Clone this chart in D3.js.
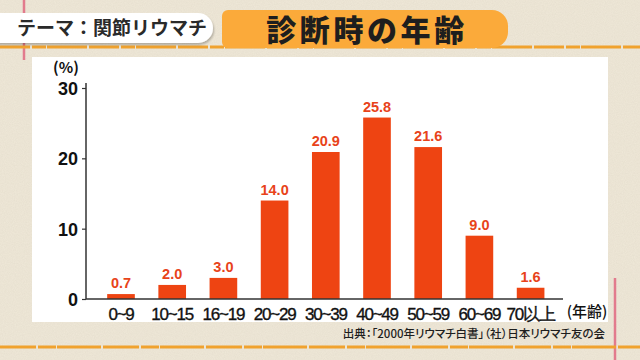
<!DOCTYPE html>
<html><head><meta charset="utf-8">
<script src="https://cdn.jsdelivr.net/npm/d3@7"></script>
<style>
html,body{margin:0;padding:0;background:#eee7d7;}
svg{display:block;}
</style></head>
<body>
<svg id="chart" width="640" height="360"></svg>
<script>
const categories = ["0~9","10~15","16~19","20~29","30~39","40~49","50~59","60~69","70以上"];
const values = [0.7, 2.0, 3.0, 14.0, 20.9, 25.8, 21.6, 9.0, 1.6];
const yTicks = [0, 10, 20, 30];
const themeLabel = "テーマ：関節リウマチ";
const title = "診断時の年齢";
const source = "出典：「2000年リウマチ白書」（社）日本リウマチ友の会";

const svg = d3.select("#chart");
const jp = "'Noto Sans CJK JP', 'Noto Sans', sans-serif";
const num = "'Liberation Sans', Arial, sans-serif";

// background texture
const defs = svg.append("defs");
const f = defs.append("filter").attr("id","paper").attr("x",0).attr("y",0).attr("width","100%").attr("height","100%");
f.append("feTurbulence").attr("type","fractalNoise").attr("baseFrequency",0.9).attr("numOctaves",2).attr("seed",3).attr("result","n");
f.append("feColorMatrix").attr("type","matrix").attr("values","0 0 0 0 0.55  0 0 0 0 0.5  0 0 0 0 0.4  0 0 0 0.35 -0.05");
const sh = defs.append("filter").attr("id","shadow").attr("x","-10%").attr("y","-20%").attr("width","120%").attr("height","160%");
sh.append("feDropShadow").attr("dx",1).attr("dy",2).attr("stdDeviation",1.2).attr("flood-color","#000").attr("flood-opacity",0.25);

svg.append("rect").attr("width",640).attr("height",360).attr("fill","#eee7d7");
svg.append("rect").attr("width",640).attr("height",360).attr("filter","url(#paper)").attr("opacity",0.6);

// decorative lines
svg.append("line").attr("x1",24).attr("x2",24).attr("y1",0).attr("y2",60).attr("stroke","#e27b8d").attr("stroke-width",2.5);
svg.append("line").attr("x1",615).attr("x2",615).attr("y1",278).attr("y2",360).attr("stroke","#e27b8d").attr("stroke-width",2.5);
svg.append("line").attr("x1",0).attr("x2",640).attr("y1",47).attr("y2",47).attr("stroke","#f0a22e").attr("stroke-width",3).attr("stroke-dasharray","30 2 14 1 40 2");
svg.append("line").attr("x1",0).attr("x2",640).attr("y1",347).attr("y2",347).attr("stroke","#f0a22e").attr("stroke-width",3).attr("stroke-dasharray","36 2 18 1 44 2");

// theme pill
svg.append("rect").attr("x",-20).attr("y",13).attr("width",233).attr("height",30).attr("rx",15)
  .attr("fill","#ffffff").attr("filter","url(#shadow)");
svg.append("text").attr("x",112).attr("y",35).attr("text-anchor","middle")
  .attr("font-family",jp).attr("font-weight",700).attr("font-size",19).attr("fill","#2a2a2a").text(themeLabel);

// title banner
svg.append("rect").attr("x",222).attr("y",10).attr("width",286).attr("height",38).attr("rx",16)
  .attr("fill","#fbaa3a");
svg.append("rect").attr("x",222).attr("y",10).attr("width",40).attr("height",38).attr("rx",6)
  .attr("fill","#fbaa3a");
svg.append("text").attr("x",367).attr("y",41).attr("text-anchor","middle")
  .attr("font-family",jp).attr("font-weight",900).attr("font-size",30).attr("letter-spacing",3.6)
  .attr("fill","#1e1e1e").text(title);

// white panel
svg.append("rect").attr("x",32).attr("y",57).attr("width",576).attr("height",265).attr("fill","#ffffff");

// scales
const x = d3.scaleBand().domain(categories).range([95.4, 556.2]).paddingInner(0.46).paddingOuter(0.23);
const y = d3.scaleLinear().domain([0,30]).range([299, 88]);
const barColor = "#ee4412";

// bars
svg.append("g").selectAll("rect").data(values).join("rect")
  .attr("x",(d,i)=>x(categories[i])).attr("width",x.bandwidth())
  .attr("y",d=>y(d)).attr("height",d=>y(0)-y(d)).attr("fill",barColor);

// value labels
svg.append("g").selectAll("text").data(values).join("text")
  .attr("x",(d,i)=>x(categories[i])+x.bandwidth()/2).attr("y",d=>y(d)-6)
  .attr("text-anchor","middle").attr("font-family",num).attr("font-weight",700).attr("font-size",14.5)
  .attr("fill","#e8431a").text(d=>d.toFixed(1));

// y axis
const yAxis = svg.append("g").attr("transform","translate(86,0)")
  .call(d3.axisLeft(y).tickValues(yTicks).tickSize(4).tickPadding(4));
yAxis.select(".domain").remove();
yAxis.selectAll("line").attr("stroke","#333").attr("stroke-width",1.2);
yAxis.selectAll("text").attr("font-family",num).attr("font-weight",700).attr("font-size",18).attr("fill","#111").attr("dy","0.36em");
svg.append("line").attr("x1",86).attr("x2",86).attr("y1",83).attr("y2",y(0)).attr("stroke","#333").attr("stroke-width",1.5);

// x axis
const xAxis = svg.append("g").attr("transform",`translate(0,${y(0)})`)
  .call(d3.axisBottom(x).tickSize(0).tickPadding(7));
xAxis.select(".domain").remove();
xAxis.selectAll("text").attr("font-family",num).attr("font-size",17).attr("letter-spacing",-1.2)
  .attr("fill","#111").attr("stroke","#111").attr("stroke-width",0.35).attr("dy","0.85em");
svg.append("line").attr("x1",86).attr("x2",563).attr("y1",y(0)).attr("y2",y(0)).attr("stroke","#333").attr("stroke-width",1.5);

// unit labels
svg.append("text").attr("x",66).attr("y",73).attr("text-anchor","middle")
  .attr("font-family",jp).attr("font-weight",700).attr("font-size",15).attr("fill","#111").text("(%)");
svg.append("text").attr("x",587).attr("y",317).attr("text-anchor","middle")
  .attr("font-family",jp).attr("font-weight",500).attr("font-size",15).attr("fill","#111").text("(年齢)");

// source
svg.append("text").attr("x",605).attr("y",338).attr("text-anchor","end")
  .attr("font-family",jp).attr("font-weight",500).attr("font-size",11.5).attr("fill","#1e1e1e")
  .style("font-feature-settings","'palt'").text(source);
</script>
</body></html>
